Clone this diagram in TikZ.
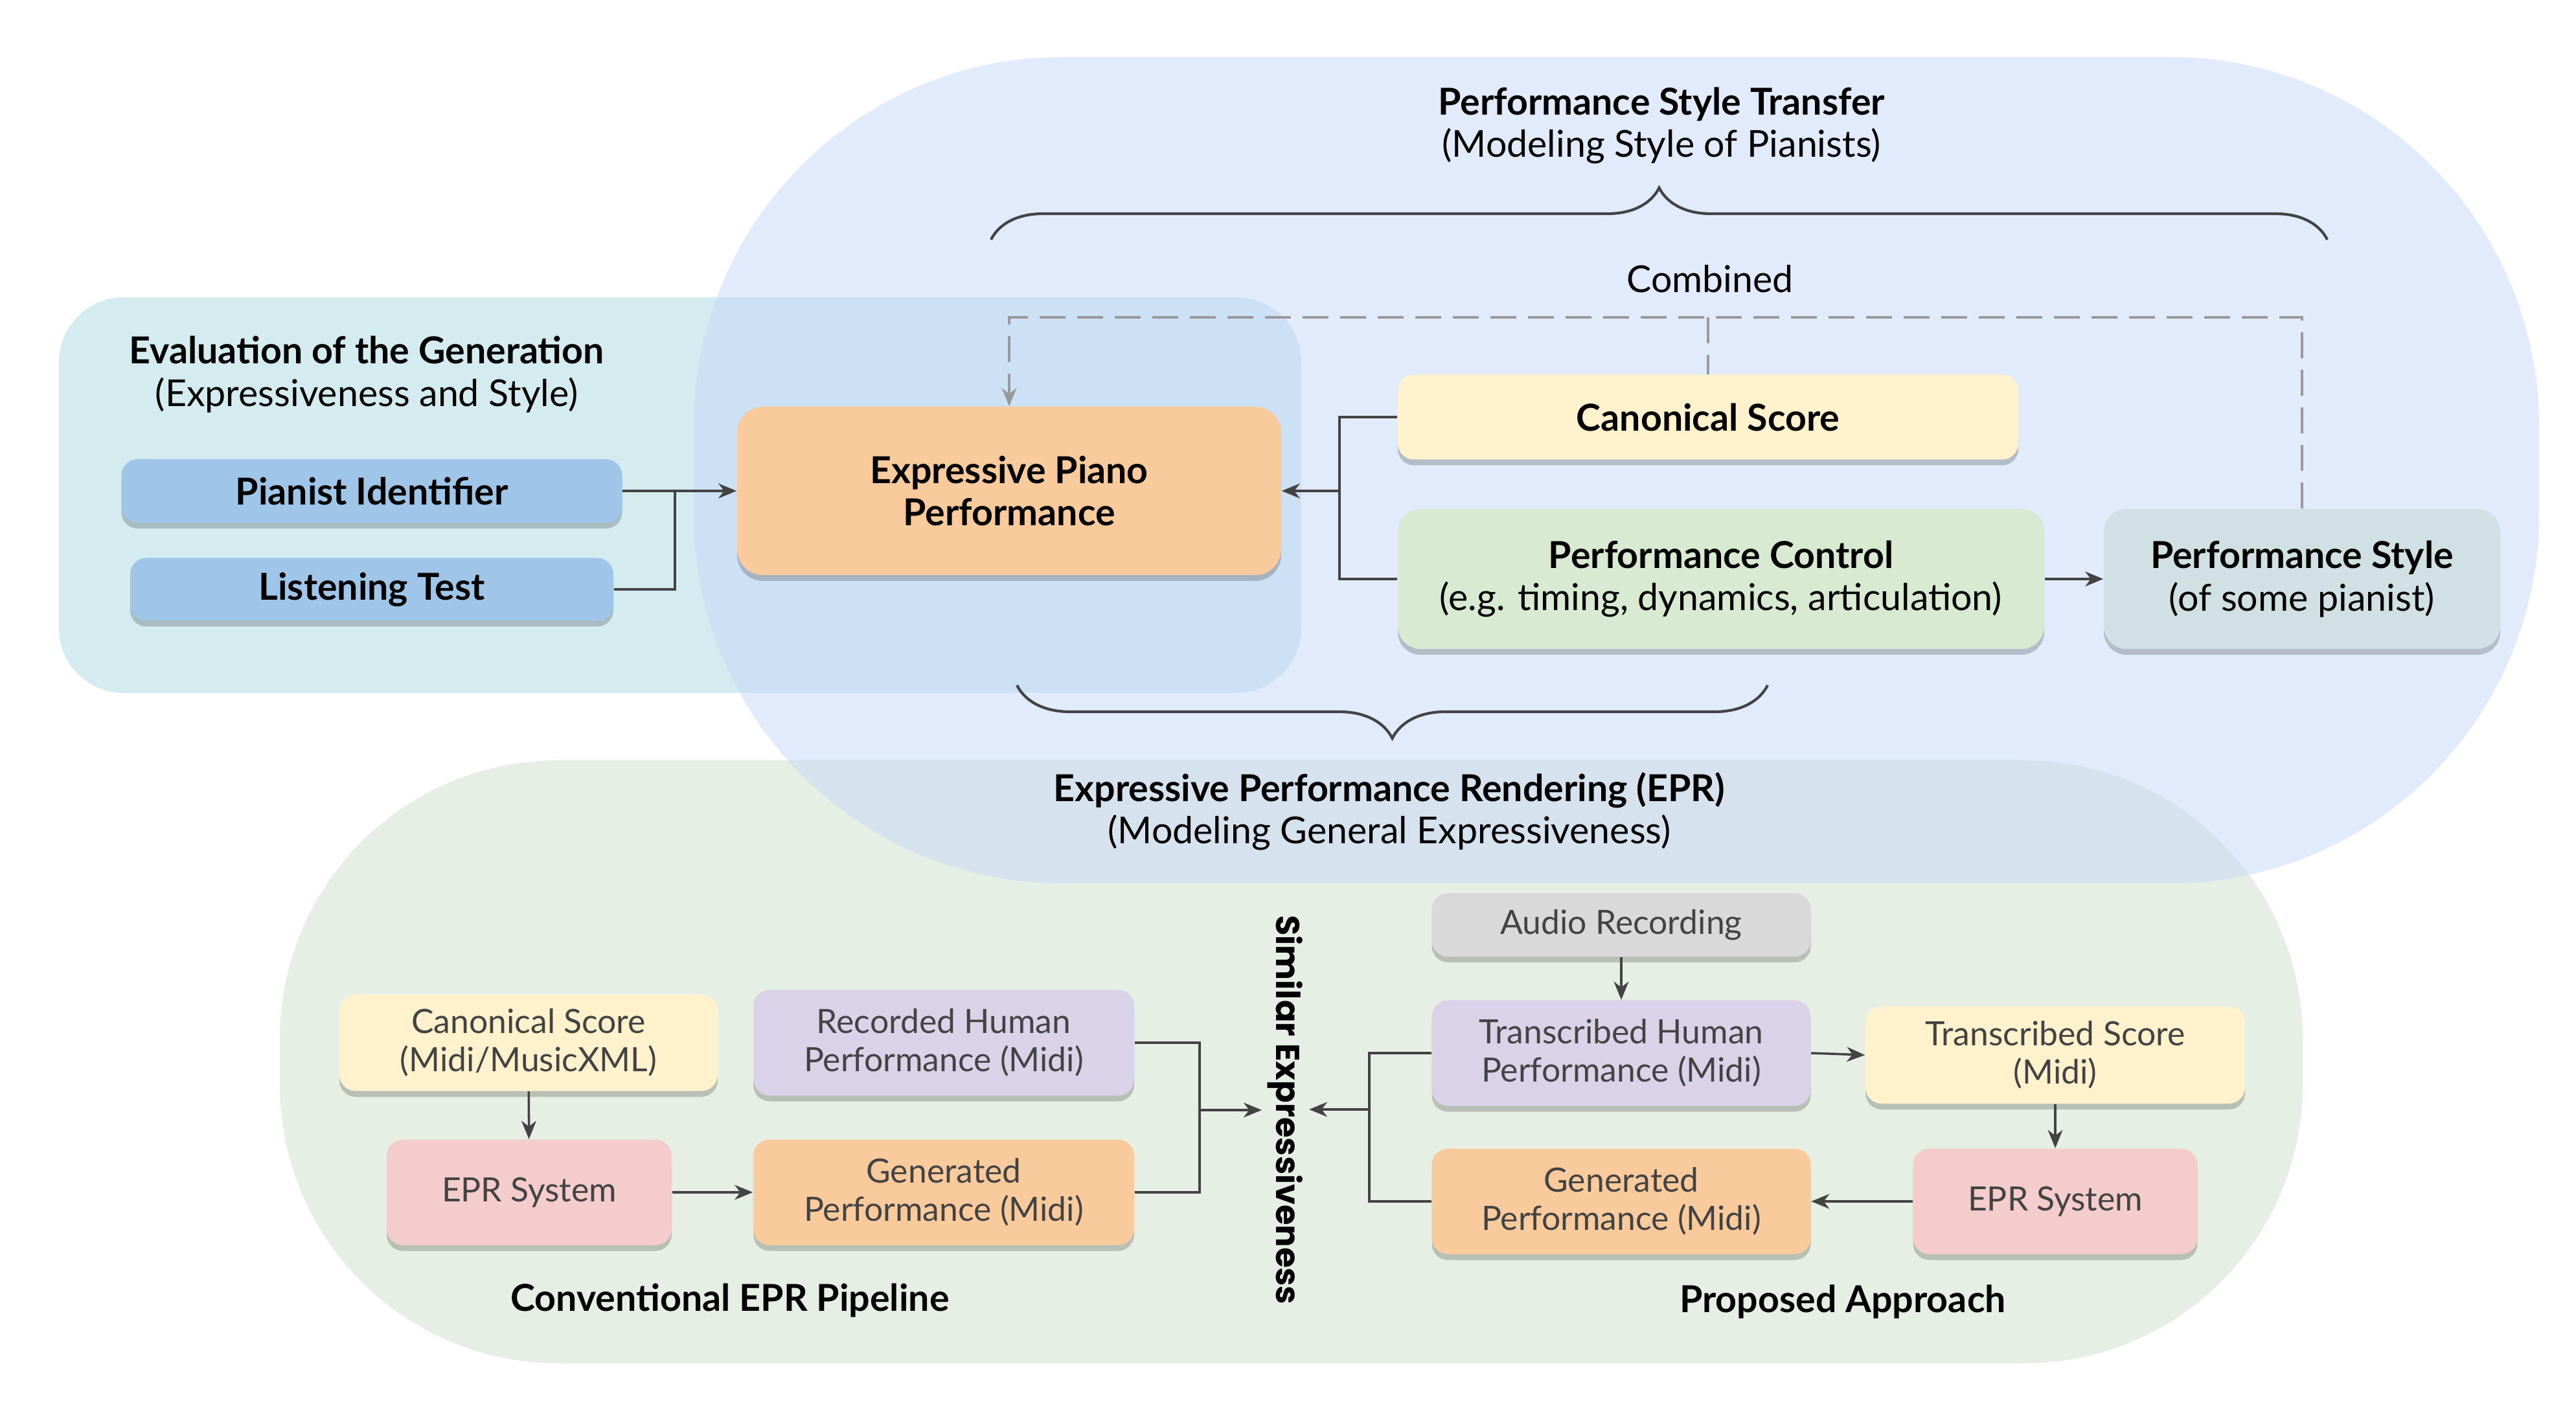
\documentclass[tikz,border=0pt]{standalone}
\usepackage{fontspec}
\setmainfont{Lato}
\newfontfamily\simfont{Poppins}
\usetikzlibrary{arrows.meta,shadows,decorations.pathreplacing}
\definecolor{tealbg}{HTML}{D4EBF0}
\definecolor{greenbg}{HTML}{E6EFE3}
\definecolor{bluebg}{HTML}{C9DAF8}
\definecolor{evalblue}{HTML}{9FC5E8}
\definecolor{pianoorange}{HTML}{F9CB9C}
\definecolor{scoreyellow}{HTML}{FFF2CC}
\definecolor{ctrlgreen}{HTML}{D9EAD3}
\definecolor{stylegray}{HTML}{D0E0E3}
\definecolor{recpurple}{HTML}{D9D2E9}
\definecolor{eprpink}{HTML}{F4CCCC}
\definecolor{audiogray}{HTML}{D9D9D9}
\definecolor{linegray}{HTML}{434343}
\definecolor{dashgray}{HTML}{999999}
\begin{document}
\begin{tikzpicture}[every node/.style={align=center,font=\fontsize{16.3}{18.6}\selectfont}]
        \tikzset{edge/.style = {-{Stealth[length=8pt,width=6.5pt,inset=2.5pt]},draw=linegray,line width=1.2pt}}
        \tikzset{link/.style = {draw=linegray,line width=1.2pt}}
        \tikzset{dashedge/.style = {draw=dashgray,line width=1.1pt,dash pattern=on 0.4cm off 0.18cm}}
        \tikzset{brace/.style = {draw=linegray,line width=1.2pt,decorate}}
        \tikzset{box/.style = {rounded corners=0.25cm,inner sep=0pt,drop shadow={shadow xshift=0pt,shadow yshift=-0.09cm,opacity=0.2,fill=black}}}
        \tikzset{sbox/.style = {box,text=linegray,font=\fontsize{14.7}{16.8}\selectfont}}
        \useasboundingbox (0,0) rectangle (39.77,21.90);
        \fill[tealbg,rounded corners=1cm] (0.91,11.20) rectangle (20.09,17.31);
        \fill[greenbg,rounded corners=4.3cm] (4.32,0.85) rectangle (35.55,10.16);
        \fill[bluebg,opacity=0.55,rounded corners=5.7cm] (10.71,8.26) rectangle (39.20,21.02);

        \node (PST) at (25.65,19.96) {\textbf{Performance Style Transfer}\\(Modeling Style of Pianists)};
        \node (CB) at (26.40,17.59) {Combined};
        \node (EVT) at (5.66,16.12) {\textbf{Evaluation of the Generation}\\(Expressiveness and Style)};
        \node (EPR) at (21.45,9.37) {\textbf{Expressive Performance Rendering (EPR)}\\(Modeling General Expressiveness)};

        \node[box,fill=pianoorange,rounded corners=0.4cm,minimum width=8.40cm,minimum height=2.60cm] (EPP) at (15.58,14.32) {\textbf{Expressive Piano}\\\textbf{Performance}};
        \node[box,fill=evalblue,minimum width=7.73cm,minimum height=0.98cm] (PI) at (5.74,14.32) {\textbf{Pianist Identifier}};
        \node[box,fill=evalblue,minimum width=7.46cm,minimum height=0.97cm] (LT) at (5.74,12.80) {\textbf{Listening Test}};
        \node[box,fill=scoreyellow,minimum width=9.58cm,minimum height=1.31cm] (CS) at (26.37,15.46) {\textbf{Canonical Score}};
        \node[box,fill=ctrlgreen,rounded corners=0.35cm,minimum width=9.98cm,minimum height=2.16cm] (PC) at (26.57,12.96) {\textbf{Performance Control}\\(e.g. timing, dynamics, articulation)};
        \node[box,fill=stylegray,rounded corners=0.35cm,minimum width=6.12cm,minimum height=2.16cm] (PS) at (35.54,12.96) {\textbf{Performance Style}\\(of some pianist)};

        \node[sbox,fill=scoreyellow,minimum width=5.84cm,minimum height=1.49cm] (CS2) at (8.16,5.80) {Canonical Score\\(Midi/MusicXML)};
        \node[sbox,fill=recpurple,minimum width=5.88cm,minimum height=1.63cm] (RH) at (14.57,5.80) {Recorded Human\\Performance (Midi)};
        \node[sbox,fill=eprpink,minimum width=4.40cm,minimum height=1.63cm] (ES1) at (8.17,3.49) {EPR System};
        \node[sbox,fill=pianoorange,minimum width=5.88cm,minimum height=1.63cm] (GP1) at (14.57,3.49) {Generated\\Performance (Midi)};
        \node (CEP) at (11.27,1.82) {\textbf{Conventional EPR Pipeline}};

        \node[rotate=-90,font=\simfont\bfseries\fontsize{14.5}{17}\selectfont] (SE) at (19.84,4.76) {Similar Expressiveness};

        \node[sbox,fill=audiogray,minimum width=5.85cm,minimum height=0.98cm] (AR) at (25.03,7.62) {Audio Recording};
        \node[sbox,fill=recpurple,minimum width=5.85cm,minimum height=1.63cm] (TH) at (25.03,5.64) {Transcribed Human\\Performance (Midi)};
        \node[sbox,fill=scoreyellow,minimum width=5.86cm,minimum height=1.50cm] (TS) at (31.73,5.61) {Transcribed Score\\(Midi)};
        \node[sbox,fill=eprpink,minimum width=4.39cm,minimum height=1.63cm] (ES2) at (31.73,3.35) {EPR System};
        \node[sbox,fill=pianoorange,minimum width=5.85cm,minimum height=1.63cm] (GP2) at (25.03,3.35) {Generated\\Performance (Midi)};
        \node (PA) at (28.45,1.80) {\textbf{Proposed Approach}};

        \coordinate (J1) at (10.42,14.32);
        \coordinate (J2) at (20.68,14.32);
        \coordinate (DM) at (26.37,17.00);
        \coordinate (J3) at (18.52,4.76);
        \coordinate (E3) at (19.48,4.76);
        \coordinate (J4) at (21.14,4.77);
        \coordinate (E4) at (20.21,4.77);
        \coordinate (B1) at (15.30,18.20);
        \coordinate (B2) at (35.93,18.20);
        \coordinate (B3) at (27.29,11.32);
        \coordinate (B4) at (15.70,11.32);

        \draw[edge] (PI) to (EPP);
        \draw[link] (LT.east) -| (J1);
        \draw[link] (CS.west) -| (J2) |- (PC.west);
        \draw[edge] (J2) to (EPP.east);
        \draw[edge] (PC) to (PS);
        \draw[dashedge,-{Stealth[length=8pt,width=6.5pt,inset=2.5pt]}] (PS.north) |- (EPP.north |- DM) -- (EPP.north);
        \draw[dashedge] (DM) -- (CS.north);
        \draw[brace,decoration={brace,amplitude=0.8cm}] (B1) -- (B2);
        \draw[brace,decoration={brace,amplitude=0.82cm}] (B3) -- (B4);

        \draw[edge,line width=1pt] (CS2) to (ES1);
        \draw[edge,line width=1pt] (ES1) to (GP1);
        \draw[link,line width=1pt] (RH.east) -| (J3) |- (GP1.east);
        \draw[edge,line width=1pt] (J3) to (E3);

        \draw[edge,line width=1pt] (AR) to (TH);
        \draw[edge,line width=1pt] (TH.east) to (TS.west);
        \draw[edge,line width=1pt] (TS) to (ES2);
        \draw[edge,line width=1pt] (ES2) to (GP2);
        \draw[link,line width=1pt] (TH.west) -| (J4) |- (GP2.west);
        \draw[edge,line width=1pt] (J4) to (E4);
\end{tikzpicture}
\end{document}
